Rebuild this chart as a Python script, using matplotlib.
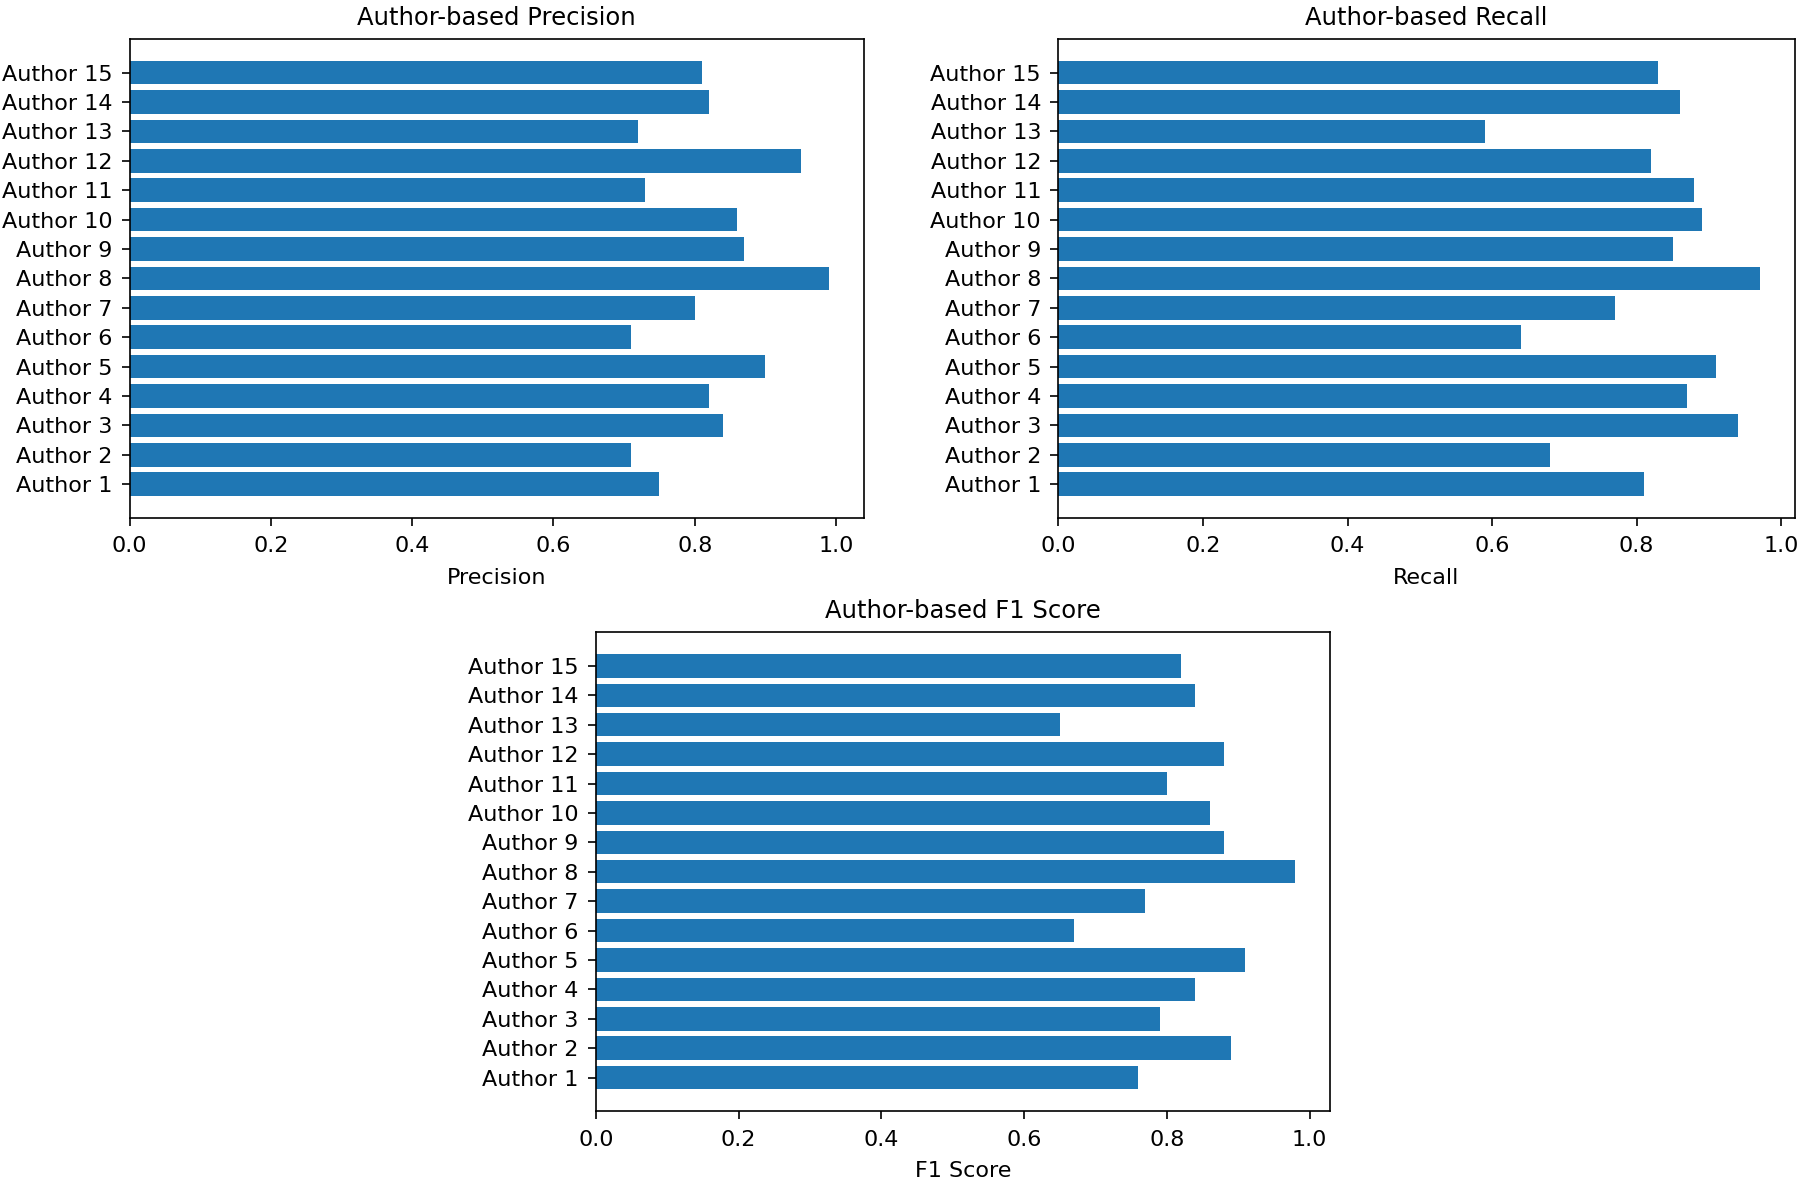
import matplotlib
matplotlib.use('Agg')
import matplotlib.pyplot as plt

authors = ['Author %d' % i for i in range(1, 16)]

precision = [0.75, 0.71, 0.84, 0.82, 0.90, 0.71, 0.80, 0.99, 0.87, 0.86, 0.73, 0.95, 0.72, 0.82, 0.81]
recall = [0.81, 0.68, 0.94, 0.87, 0.91, 0.64, 0.77, 0.97, 0.85, 0.89, 0.88, 0.82, 0.59, 0.86, 0.83]
f1_score = [0.76, 0.89, 0.79, 0.84, 0.91, 0.67, 0.77, 0.98, 0.88, 0.86, 0.80, 0.88, 0.65, 0.84, 0.82]

plt.rcParams['font.size'] = 16

fig = plt.figure(figsize=(18, 11.82), dpi=100)

# axes rectangles [left, bottom, width, height]
ax1 = fig.add_axes([0.072, 0.562, 0.408, 0.405])
ax2 = fig.add_axes([0.588, 0.562, 0.409, 0.405])
ax3 = fig.add_axes([0.331, 0.060, 0.408, 0.405])

def plot_metric(ax, values, name):
    ax.barh(authors, values, color='#1f77b4')
    ax.set_title('Author-based ' + name, fontsize=17.5, pad=10)
    ax.set_xlabel(name, labelpad=8)
    ax.tick_params(labelsize=16, length=5.5, width=1.2)
    ax.tick_params(axis='x', pad=8)
    ax.tick_params(axis='y', pad=7)
    for s in ax.spines.values():
        s.set_linewidth(1.2)

plot_metric(ax1, precision, 'Precision')
plot_metric(ax2, recall, 'Recall')
plot_metric(ax3, f1_score, 'F1 Score')

fig.savefig('out.png', dpi=100)
